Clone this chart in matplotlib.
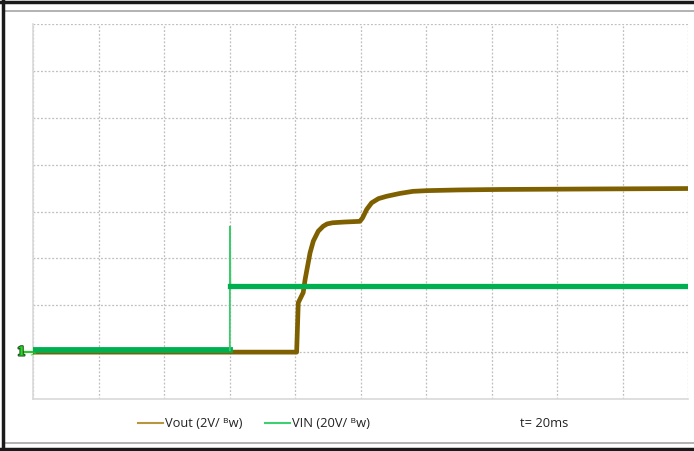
import matplotlib
matplotlib.use("Agg")
import matplotlib.pyplot as plt
import matplotlib.patheffects as pe
from matplotlib.lines import Line2D
import numpy as np

# ---- data (time in ms, voltages in V) ----
vout_t = [0, 80.5, 81.0, 82.5, 83.1, 84.6, 85.6, 87.1, 88.6, 89.8, 91.5, 95.0, 99.8,
          100.6, 101.9, 103.4, 105.5, 108.0, 112.0, 116.0, 120.3, 130.0, 142.6, 170.0, 200]
vout_v = [0.0, 0.0, 2.11, 2.54, 3.11, 4.24, 4.74, 5.16, 5.37, 5.47, 5.52, 5.55, 5.58,
          5.72, 6.09, 6.37, 6.55, 6.65, 6.77, 6.86, 6.89, 6.92, 6.94, 6.96, 6.98]
vin_t = [0, 60.1, 60.15, 60.25, 200]
vin_v = [0.8, 0.8, 53.6, 28.1, 28.1]

vout_scale = 2     # V/div
vin_scale = 20     # V/div
time_per_div = 20  # ms/div

legend_labels = ["Vout (2V/ \u1d2ew)", "VIN (20V/ \u1d2ew)"]
time_label = "t= 20ms"

VOUT_COLOR = "#7F6000"
VIN_COLOR = "#00B050"
FAM = ["Open Sans", "DejaVu Sans"]

W, H = 694, 452
fig = plt.figure(figsize=(W / 100, H / 100), dpi=100)
fig.patch.set_facecolor("white")

ax = fig.add_axes([33 / W, 1 - 400 / H, (688 - 33) / W, (400 - 25) / H])
ax.set_xlim(0, 10 * time_per_div)
ax.set_ylim(-1, 7)
ax.set_xticks(np.arange(0, 10 * time_per_div + 1, time_per_div))
ax.set_yticks(np.arange(-1, 8, 1))
ax.tick_params(length=0, labelbottom=False, labelleft=False)
ax.grid(True, color="#BFBFBF", linestyle=(0, (1.5, 1.5)), linewidth=0.9)
for s in ["top", "right"]:
    ax.spines[s].set_visible(False)
for s in ["left", "bottom"]:
    ax.spines[s].set_color("#D9D9D9")
    ax.spines[s].set_linewidth(1.2)

vout_div = np.array(vout_v) / vout_scale
vin_div = np.array(vin_v) / vin_scale
vin_t = np.array(vin_t)

ax.plot(vout_t, vout_div, color=VOUT_COLOR, lw=3.4, solid_joinstyle="round", zorder=3)
# VIN: thick trace before and after the step, thin edge with spike
ax.plot(vin_t[0:2], vin_div[0:2], color=VIN_COLOR, lw=4.2, zorder=4)
ax.plot(vin_t[1:4], vin_div[1:4], color="#3CCB6A", lw=1.3, zorder=4)
ax.plot(vin_t[3:5], vin_div[3:5], color=VIN_COLOR, lw=3.8, zorder=4)

# channel marker
fig.text(17 / W, 1 - 353 / H, "1", color="#22DD22", fontsize=9, fontweight="bold",
         family="DejaVu Serif", va="center", ha="left",
         path_effects=[pe.withStroke(linewidth=1.5, foreground="#205020")])
fig.add_artist(Line2D([24 / W, 32 / W], [1 - 353 / H, 1 - 353 / H], color="#22CC22", lw=1.5))
fig.text(29 / W, 1 - 353 / H, ">", color="#22CC22", fontsize=6, va="center", ha="left")

# legend
ly = 1 - 424 / H
fig.add_artist(Line2D([138 / W, 163 / W], [ly, ly], color="#B8963E", lw=1.5))
fig.text(165 / W, ly, legend_labels[0], fontsize=9.3, family=FAM, va="center",
         ha="left", color="#222222")
fig.add_artist(Line2D([265 / W, 290 / W], [ly, ly], color="#3ECF6E", lw=1.5))
fig.text(292 / W, ly, legend_labels[1], fontsize=9.3, family=FAM, va="center",
         ha="left", color="#222222")
fig.text(520 / W, ly, time_label, fontsize=9.3, family=FAM, va="center",
         ha="left", color="#222222")

# frame lines
fig.add_artist(Line2D([5 / W, 1], [1 - 12 / H, 1 - 12 / H], color="#A6A6A6", lw=1.2))
fig.add_artist(Line2D([5 / W, 1], [1 - 444 / H, 1 - 444 / H], color="#A6A6A6", lw=1.2))
fig.add_artist(Line2D([0, 1], [1 - 3 / H, 1 - 3 / H], color="#1A1A1A", lw=2.5))
fig.add_artist(Line2D([0, 1], [1 - 450 / H, 1 - 450 / H], color="#1A1A1A", lw=2.5))
fig.add_artist(Line2D([2.5 / W, 2.5 / W], [0, 1], color="#1A1A1A", lw=2.5))

fig.savefig("out.png", dpi=100)
